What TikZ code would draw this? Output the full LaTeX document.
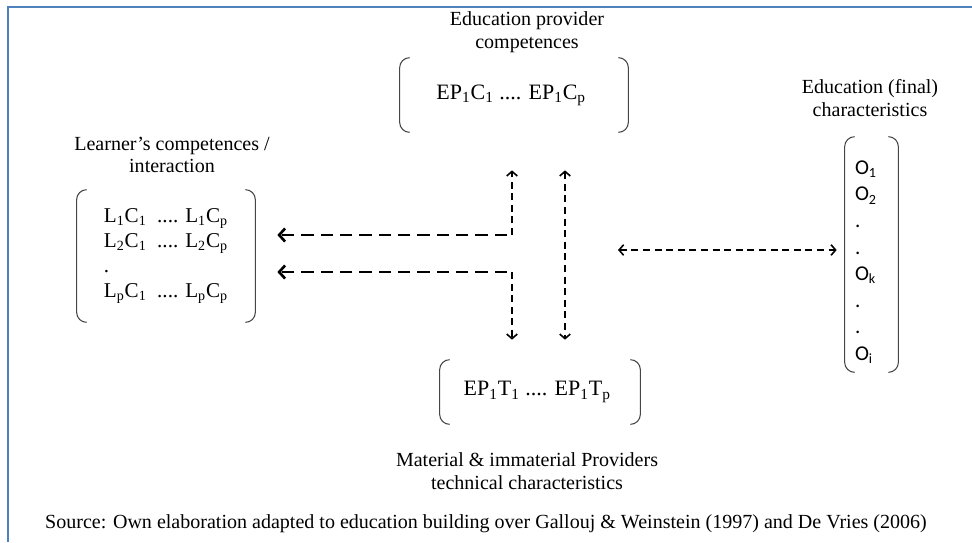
\documentclass[tikz,border=0pt]{standalone}
\usepackage{fontspec}
\setmainfont{Liberation Serif}
\newfontfamily\calfont{Carlito}
\usepackage{xcolor}
\usetikzlibrary{arrows.meta, positioning, calc}
\definecolor{frameblue}{RGB}{79,129,189}
\definecolor{parengray}{RGB}{70,70,70}

\begin{document}
\begin{tikzpicture}[
    x=0.02cm, y=-0.02cm,
    % Global styles
    font=\fontsize{11.4}{13}\selectfont,
    % Text styles
    titletext/.style={align=center, inner sep=0pt},
    mattext/.style={inner sep=0pt, align=left, font=\fontsize{12}{14.2}\selectfont},
    outtext/.style={inner sep=0pt, align=left, font=\calfont\fontsize{12}{15.1}\selectfont},
    paren/.style={draw=parengray, line width=0.6pt, rounded corners=0.2cm},
    % Arrow styles
    thickarr/.style={->, >={Straight Barb[length=3.4pt, width=7.5pt]}, line width=1.5pt, dash pattern=on 7pt off 4pt},
    thinarr/.style={->, >={Straight Barb[length=2.6pt, width=6pt]}, line width=0.9pt, dash pattern=on 4pt off 2.6pt},
  ]
  \useasboundingbox (0,0) rectangle (972,542);

  % Frame (top and left only)
  \draw[frameblue, line width=1.2pt] (8,542) -- (8,7) -- (972,7);

  % ====================================================================
  % BRACKETED BLOCKS
  % ====================================================================
  \node[mattext, minimum width=228*0.02cm, minimum height=74*0.02cm, align=center, font=\fontsize{12.5}{14}\selectfont] (epc) at (514,95) {
    EP\textsubscript{1}C\textsubscript{1} .... EP\textsubscript{1}C\textsubscript{p}
  };
  \node[titletext] (epctitle) at (527,32) {Education provider\\competences};

  \node[mattext, minimum width=178*0.02cm, minimum height=132*0.02cm] (lc) at (166,256) {
    L\textsubscript{1}C\textsubscript{1} \ .... L\textsubscript{1}C\textsubscript{p}\\
    L\textsubscript{2}C\textsubscript{1} \ .... L\textsubscript{2}C\textsubscript{p}\\
    .\\
    L\textsubscript{p}C\textsubscript{1} \ .... L\textsubscript{p}C\textsubscript{p}
  };
  \node[titletext] (lctitle) at (172,155) {Learner’s competences /\\interaction};

  \node[mattext, minimum width=200*0.02cm, minimum height=64*0.02cm, align=center, font=\fontsize{12.5}{14}\selectfont] (ept) at (540,392) {
    EP\textsubscript{1}T\textsubscript{1} .... EP\textsubscript{1}T\textsubscript{p}
  };
  \node[titletext] (epttitle) at (527,471) {Material \& immaterial Providers\\technical characteristics};

  \node[inner sep=0pt, minimum width=53*0.02cm, minimum height=235*0.02cm] (out) at (871.5,254.5) {};
  \node[outtext] (outlist) at (866,262) {
    O\textsubscript{1}\\O\textsubscript{2}\\.\\.\\O\textsubscript{k}\\.\\.\\O\textsubscript{i}
  };
  \node[titletext] (outtitle) at (870,98) {Education (final)\\characteristics};

  % Brackets round each block
  \foreach \b in {epc, lc, ept, out} {
    \draw[paren] ([xshift=0.2cm]\b.north west) -- (\b.north west) -- (\b.south west) -- ([xshift=0.2cm]\b.south west);
    \draw[paren] ([xshift=-0.2cm]\b.north east) -- (\b.north east) -- (\b.south east) -- ([xshift=-0.2cm]\b.south east);
  }

  % Source line
  \node[inner sep=0pt] (src) at (486,524) {Source: Own elaboration adapted to education building over Gallouj \& Weinstein (1997) and De Vries (2006)};

  % ====================================================================
  % ARROWS
  % ====================================================================
  \coordinate (jup) at (512,235);
  \coordinate (jdn) at (512,272);
  \coordinate (vx) at (565,0);
  \coordinate (hmid) at (618,250);

  % Towards the learner
  \draw[thickarr, shorten <=0.1cm, shorten >=0.44cm] (jup) -- (lc.east |- jup);
  \draw[thickarr, shorten <=0.1cm, shorten >=0.44cm] (jdn) -- (lc.east |- jdn);
  \draw[thinarr, shorten >=0.76cm] (jup) -- (epc.south -| jup);
  \draw[thinarr, shorten >=0.4cm] (jdn) -- (ept.north -| jdn);

  % Between provider blocks
  \draw[thinarr, <->, shorten <=0.76cm, shorten >=0.4cm] (epc.south -| vx) -- (ept.north -| vx);

  % Towards the final characteristics
  \draw[thinarr, <->, shorten >=0.16cm] (hmid) -- (out.west |- hmid);

\end{tikzpicture}
\end{document}
